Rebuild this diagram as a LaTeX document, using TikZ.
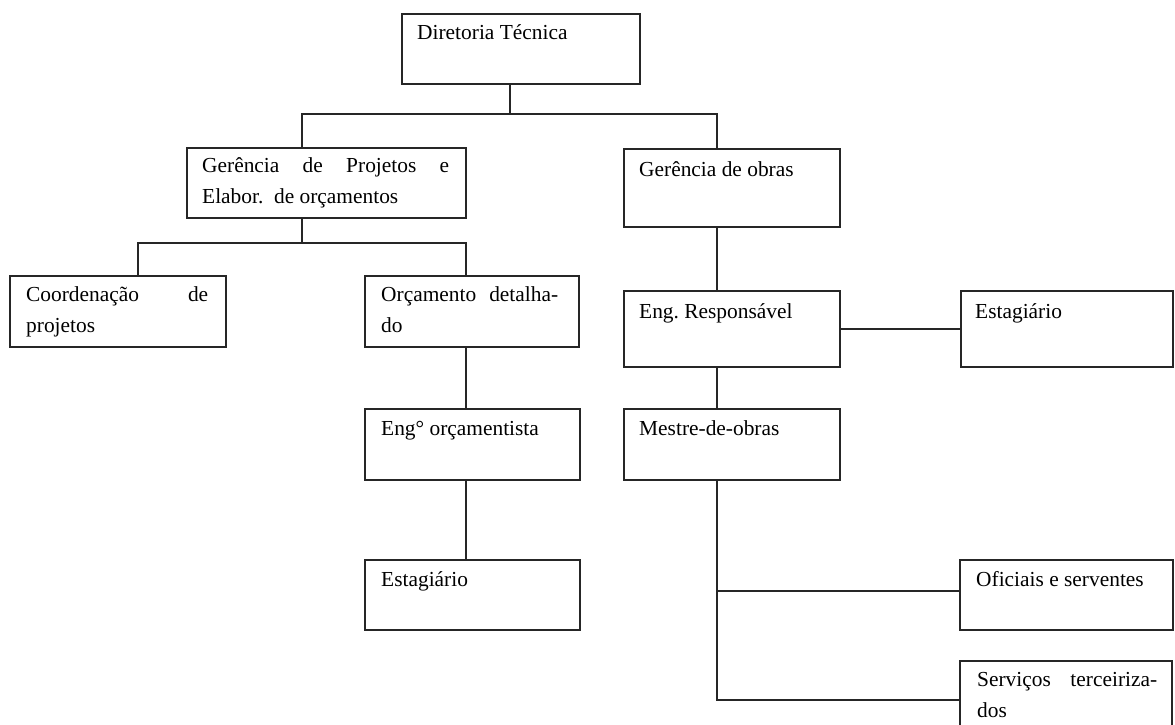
\documentclass[tikz,border=0pt]{standalone}
\usepackage{fontspec}
\setmainfont{Liberation Serif}
\begin{document}
\begin{tikzpicture}[x=1pt,y=-1pt,
  orgbox/.style={draw=black!85, line width=1.8pt, inner sep=0pt, anchor=north west},
  lbl/.style={anchor=base west, inner sep=0pt, font=\fontsize{21.4}{31}\selectfont},
  link/.style={draw=black!85, line width=1.8pt}]
\useasboundingbox (0,0) rectangle (1175,725);
% boxes
\node[orgbox, minimum width=238, minimum height=70] (dir) at (401,13) {};
\node[orgbox, minimum width=279, minimum height=70] (gp) at (186,147) {};
\node[orgbox, minimum width=216, minimum height=78] (go) at (623,148) {};
\node[orgbox, minimum width=216, minimum height=71] (coord) at (9,275) {};
\node[orgbox, minimum width=214, minimum height=71] (orc) at (364,275) {};
\node[orgbox, minimum width=216, minimum height=76] (er) at (623,290) {};
\node[orgbox, minimum width=212, minimum height=76] (est2) at (960,290) {};
\node[orgbox, minimum width=215, minimum height=71] (engo) at (364,408) {};
\node[orgbox, minimum width=216, minimum height=71] (mo) at (623,408) {};
\node[orgbox, minimum width=215, minimum height=70] (est1) at (364,559) {};
\node[orgbox, minimum width=213, minimum height=70] (ofi) at (959,559) {};
\node[orgbox, minimum width=212, minimum height=72] (serv) at (959,660) {};
% texts
\node[lbl] (tdir) at ([xshift=16pt,yshift=-27pt]dir.north west) {Diretoria Técnica};
\node[lbl] (tgp) at ([xshift=16pt,yshift=-25pt]gp.north west)
  {\parbox[t]{247pt}{\makebox[\linewidth][s]{Gerência de Projetos e}\\Elabor.\ \ de orçamentos}};
\node[lbl] (tgo) at ([xshift=16pt,yshift=-28pt]go.north west) {Gerência de obras};
\node[lbl] (tcoord) at ([xshift=17pt,yshift=-26pt]coord.north west)
  {\parbox[t]{182pt}{\makebox[\linewidth][s]{Coordenação de}\\projetos}};
\node[lbl] (torc) at ([xshift=17pt,yshift=-26pt]orc.north west)
  {\parbox[t]{177pt}{\makebox[\linewidth][s]{Orçamento detalha-}\\do}};
\node[lbl] (ter) at ([xshift=16pt,yshift=-28pt]er.north west) {Eng.\ Responsável};
\node[lbl] (test2) at ([xshift=15pt,yshift=-28pt]est2.north west) {Estagiário};
\node[lbl] (tengo) at ([xshift=17pt,yshift=-27pt]engo.north west) {Eng° orçamentista};
\node[lbl] (tmo) at ([xshift=16pt,yshift=-27pt]mo.north west) {Mestre-de-obras};
\node[lbl] (test1) at ([xshift=17pt,yshift=-27pt]est1.north west) {Estagiário};
\node[lbl] (tofi) at ([xshift=17pt,yshift=-27pt]ofi.north west) {Oficiais e serventes};
\node[lbl] (tserv) at ([xshift=18pt,yshift=-26pt]serv.north west)
  {\parbox[t]{180pt}{\makebox[\linewidth][s]{Serviços terceiriza-}\\dos}};
% junction coordinates
\coordinate (j1) at ([xshift=109pt,yshift=-29pt]dir.south west);
\coordinate (j2) at ([xshift=116pt,yshift=-24pt]gp.south west);
\coordinate (j3) at ([xshift=94pt,yshift=-110pt]mo.south west);
\coordinate (j4) at ([xshift=94pt,yshift=-219pt]mo.south west);
% connectors
\draw[link] ([xshift=109pt]dir.south west) -- (j1);
\draw[link] ([xshift=116pt]gp.north west) |- (j1) -| ([xshift=94pt]go.north west);
\draw[link] ([xshift=116pt]gp.south west) -- (j2);
\draw[link] ([xshift=129pt]coord.north west) |- (j2) -| ([xshift=102pt]orc.north west);
\draw[link] ([xshift=102pt]orc.south west) -- ([xshift=102pt]engo.north west);
\draw[link] ([xshift=102pt]engo.south west) -- ([xshift=102pt]est1.north west);
\draw[link] ([xshift=94pt]go.south west) -- ([xshift=94pt]er.north west);
\draw[link] (er.east) -- (est2.west |- er.east);
\draw[link] ([xshift=94pt]er.south west) -- ([xshift=94pt]mo.north west);
\draw[link] ([xshift=94pt]mo.south west) -- (j4) -- (serv.west |- j4);
\draw[link] (j3) -- (ofi.west |- j3);
\end{tikzpicture}
\end{document}
